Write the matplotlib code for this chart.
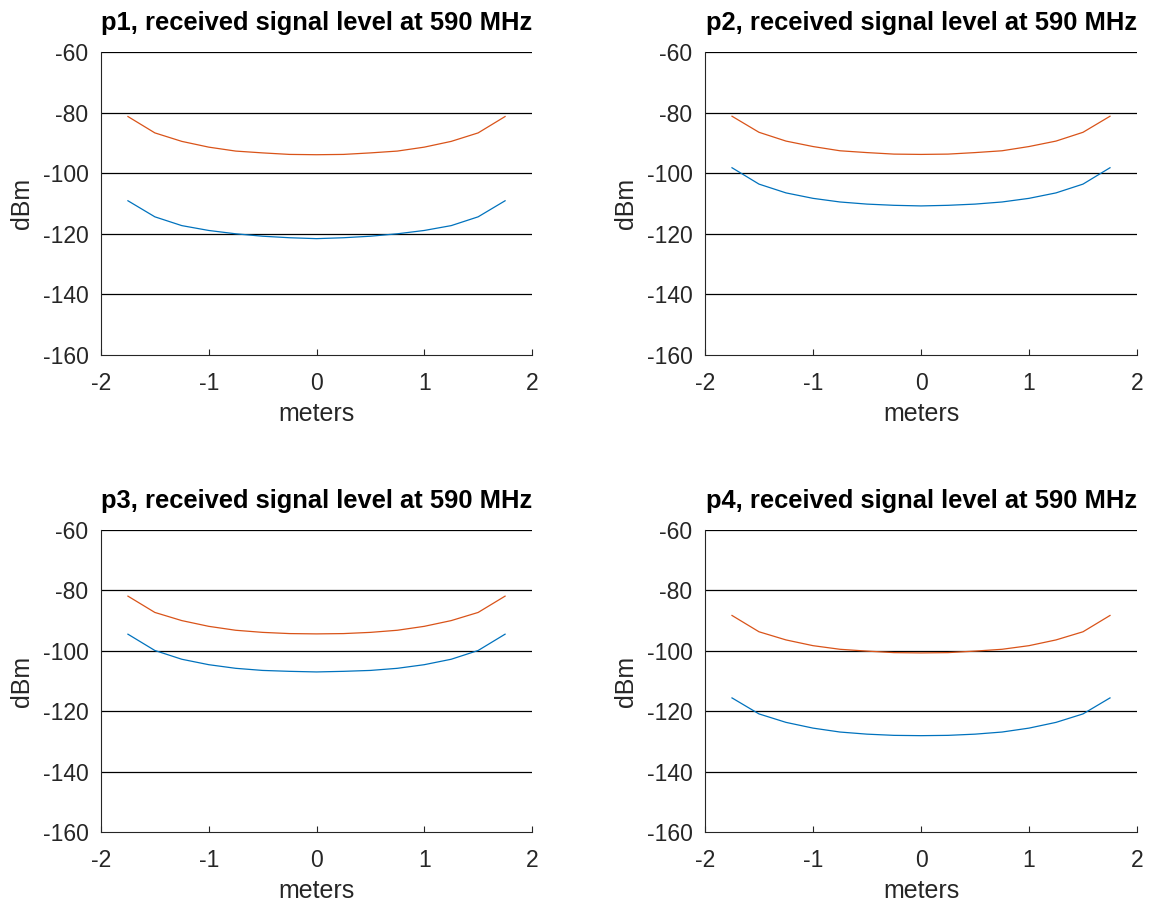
import numpy as np
import matplotlib
matplotlib.use("Agg")
import matplotlib.pyplot as plt

plt.rcParams['font.family'] = ['Liberation Sans', 'DejaVu Sans']

# receiver positions along the line (m)
pos = [-1.75, -1.5, -1.25, -1.0, -0.75, -0.5, -0.25, 0.0,
       0.25, 0.5, 0.75, 1.0, 1.25, 1.5, 1.75]

# received level (dBm), first series
p1_a = [-109.1, -114.4, -117.3, -118.9, -120.0, -120.8, -121.3, -121.6,
        -121.3, -120.8, -120.0, -118.9, -117.3, -114.4, -109.1]
p2_a = [-98.2, -103.6, -106.5, -108.3, -109.5, -110.2, -110.6, -110.8,
        -110.6, -110.2, -109.5, -108.3, -106.5, -103.6, -98.2]
p3_a = [-94.5, -99.9, -102.8, -104.6, -105.8, -106.5, -106.8, -107.0,
        -106.8, -106.5, -105.8, -104.6, -102.8, -99.9, -94.5]
p4_a = [-115.6, -120.9, -123.7, -125.6, -126.9, -127.6, -128.0, -128.1,
        -128.0, -127.6, -126.9, -125.6, -123.7, -120.9, -115.6]

# received level (dBm), second series
p1_b = [-81.3, -86.7, -89.5, -91.4, -92.7, -93.3, -93.8, -93.9,
        -93.8, -93.3, -92.7, -91.4, -89.5, -86.7, -81.3]
p2_b = [-81.2, -86.5, -89.4, -91.2, -92.6, -93.2, -93.7, -93.8,
        -93.7, -93.2, -92.6, -91.2, -89.4, -86.5, -81.2]
p3_b = [-81.9, -87.3, -90.0, -91.9, -93.2, -93.9, -94.3, -94.4,
        -94.3, -93.9, -93.2, -91.9, -90.0, -87.3, -81.9]
p4_b = [-88.3, -93.7, -96.4, -98.3, -99.5, -100.1, -100.6, -100.7,
        -100.6, -100.1, -99.5, -98.3, -96.4, -93.7, -88.3]

names = ['p1', 'p2', 'p3', 'p4']
series_a = [p1_a, p2_a, p3_a, p4_a]
series_b = [p1_b, p2_b, p3_b, p4_b]

xticks = [-2, -1, 0, 1, 2]
yticks = [-160, -140, -120, -100, -80, -60]

W, H = 1151, 905
fig = plt.figure(figsize=(W / 100, H / 100), dpi=100)

# axes boxes in pixels: left, top, right, bottom
boxes = [(101, 52, 532, 355), (705, 52, 1137, 355),
         (101, 530, 532, 832), (705, 530, 1137, 832)]

axcol = '#262626'
for i in range(4):
    l, t, r, b = boxes[i]
    ax = fig.add_axes([l / W, 1 - b / H, (r - l) / W, (b - t) / H])
    ax.plot(pos, series_a[i], color='#0072BD', lw=0.9)
    ax.plot(pos, series_b[i], color='#D95319', lw=0.9)
    ax.set_xlim(-2, 2)
    ax.set_ylim(-160, -60)
    ax.set_xticks(xticks)
    ax.set_yticks(yticks)
    ax.set_xticklabels([str(v) for v in xticks])
    ax.set_yticklabels([str(v) for v in yticks])
    for yv in yticks[1:]:
        ax.axhline(yv, color='black', lw=0.9, zorder=0.5)
    ax.spines['top'].set_visible(False)
    ax.spines['right'].set_visible(False)
    ax.spines['left'].set_color(axcol)
    ax.spines['bottom'].set_color(axcol)
    ax.tick_params(direction='in', length=4, width=0.8, colors=axcol,
                   labelsize=16.5, labelcolor=axcol)
    ax.tick_params(axis='x', pad=12)
    ax.tick_params(axis='y', pad=9, length=0)
    ax.set_xlabel('meters', fontsize=18, color=axcol, labelpad=5.5)
    ax.set_ylabel('dBm', fontsize=18, color=axcol, labelpad=6)
    ax.set_title(names[i] + ', received signal level at 590 MHz',
                 fontsize=18.4, fontweight='bold', pad=16)

fig.savefig('out.png', dpi=100)
